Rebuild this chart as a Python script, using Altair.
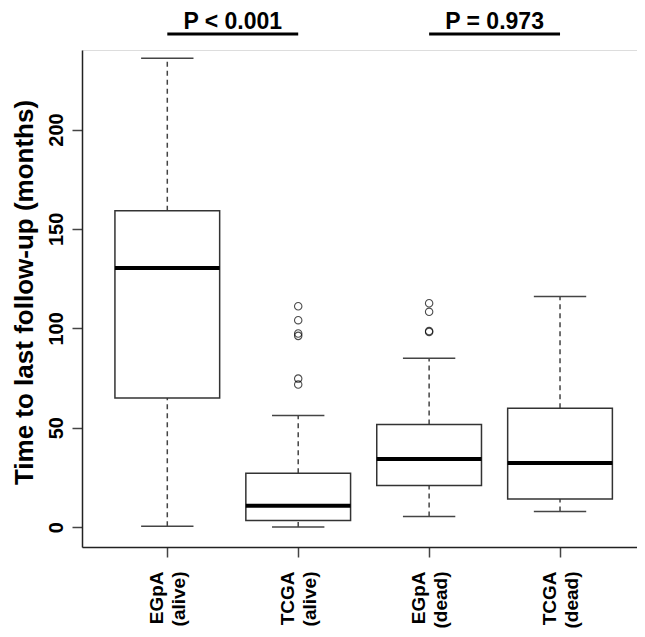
import altair as alt
import pandas as pd

# ---- data ----
groups = ["EGpA", "TCGA", "EGpA", "TCGA"]
status = ["(alive)", "(alive)", "(dead)", "(dead)"]
lower_whisker = [0.4, 0.0, 5.4, 7.8]
q1 = [65.0, 3.3, 20.9, 14.1]
median = [130.4, 10.8, 34.3, 32.3]
q3 = [159.1, 27.1, 51.6, 59.8]
upper_whisker = [235.8, 56.1, 84.9, 116.0]

outlier_group = [2, 2, 2, 2, 2, 2, 3, 3, 3, 3]
outlier_value = [111.1, 104.1, 97.4, 96.2, 74.7, 71.7, 112.6, 108.3, 98.6, 98.2]

p_labels = ["P < 0.001", "P = 0.973"]
p_left = [1, 3]
p_right = [2, 4]
p_bar_level = 248.0
p_text_level = 250.6

y_ticks = [0, 50, 100, 150, 200]
y_title = "Time to last follow-up (months)"

FONT = "Liberation Sans"

boxes = pd.DataFrame({
    "pos": list(range(1, len(groups) + 1)),
    "lw": lower_whisker, "q1": q1, "med": median, "q3": q3, "uw": upper_whisker,
})
outliers = pd.DataFrame({"pos": outlier_group, "v": outlier_value})
pvals = pd.DataFrame({"label": p_labels, "l": p_left, "r": p_right})

label_arr = "[" + ",".join(f"['{g}','{s}']" for g, s in zip(groups, status)) + "]"

xscale = alt.Scale(domain=[0.3484, 4.588], nice=False, zero=False)
yscale = alt.Scale(domain=[-10, 240], nice=False, zero=False)

xaxis = alt.Axis(
    values=[1, 2, 3, 4], labelExpr=f"{label_arr}[datum.value-1]", title=None,
    labelAngle=270, labelAlign="right", labelBaseline="middle", labelLineHeight=22,
    labelFont=FONT, labelFontSize=19, labelFontWeight="bold", labelColor="black",
    labelPadding=14, labelOffset=-11, tickSize=10, tickColor="#444", tickWidth=1.5,
    domainColor="#222", domainWidth=1.5, grid=False,
)
yaxis = alt.Axis(
    values=y_ticks, title=y_title, titleFont=FONT, titleFontSize=26, titleFontWeight="bold",
    titleColor="black", titleAngle=270, titleAlign="center", titleBaseline="alphabetic",
    titleX=-50, titleY=242,
    labelAngle=270, labelAlign="center", labelBaseline="alphabetic",
    labelFont=FONT, labelFontSize=20, labelFontWeight="bold", labelColor="black",
    labelPadding=10, tickSize=10, tickColor="#444", tickWidth=1.5,
    domainColor="#222", domainWidth=1.5, grid=False,
)

base = alt.Chart(boxes).transform_calculate(
    lo="datum.pos - 0.4", hi="datum.pos + 0.4",
    clo="datum.pos - 0.2", chi="datum.pos + 0.2",
)

whisk_up = base.mark_rule(color="#444", strokeWidth=1.5, strokeDash=[5, 4]).encode(
    x=alt.X("pos:Q", scale=xscale, axis=xaxis),
    y=alt.Y("q3:Q", scale=yscale, axis=yaxis),
    y2="uw:Q",
)
whisk_lo = base.mark_rule(color="#444", strokeWidth=1.5, strokeDash=[5, 4]).encode(
    x=alt.X("pos:Q", scale=xscale), y=alt.Y("lw:Q", scale=yscale), y2="q1:Q",
)
cap_up = base.mark_rule(color="#444", strokeWidth=1.5).encode(
    x=alt.X("clo:Q", scale=xscale), x2="chi:Q", y=alt.Y("uw:Q", scale=yscale),
)
cap_lo = base.mark_rule(color="#444", strokeWidth=1.5).encode(
    x=alt.X("clo:Q", scale=xscale), x2="chi:Q", y=alt.Y("lw:Q", scale=yscale),
)
box = base.mark_rect(fill="white", stroke="#333", strokeWidth=1.5).encode(
    x=alt.X("lo:Q", scale=xscale), x2="hi:Q",
    y=alt.Y("q1:Q", scale=yscale), y2="q3:Q",
)
med = base.mark_rule(color="black", strokeWidth=4).encode(
    x=alt.X("lo:Q", scale=xscale), x2="hi:Q", y=alt.Y("med:Q", scale=yscale),
)
pts = alt.Chart(outliers).mark_point(
    shape="circle", filled=False, size=55, color="black", strokeWidth=1.1
).encode(x=alt.X("pos:Q", scale=xscale), y=alt.Y("v:Q", scale=yscale))

pbar = alt.Chart(pvals).mark_rule(color="black", strokeWidth=3).encode(
    x=alt.X("l:Q", scale=xscale), x2="r:Q", y=alt.datum(p_bar_level),
)
ptext = alt.Chart(pvals).transform_calculate(mid="(datum.l + datum.r) / 2").mark_text(
    font=FONT, fontSize=23, fontWeight="bold", color="black", baseline="alphabetic", align="center"
).encode(x=alt.X("mid:Q", scale=xscale), y=alt.datum(p_text_level), text="label:N")

chart = alt.layer(whisk_up, whisk_lo, cap_up, cap_lo, box, med, pts, pbar, ptext).properties(
    width=555, height=497,
    padding={"left": 74, "top": 42, "right": 0, "bottom": 82},
    autosize=alt.AutoSizeParams(type="none"),
).configure_view(strokeWidth=0, stroke="transparent").configure(background="white")

chart.save("out.html", embed_options={"renderer": "svg", "actions": False})
